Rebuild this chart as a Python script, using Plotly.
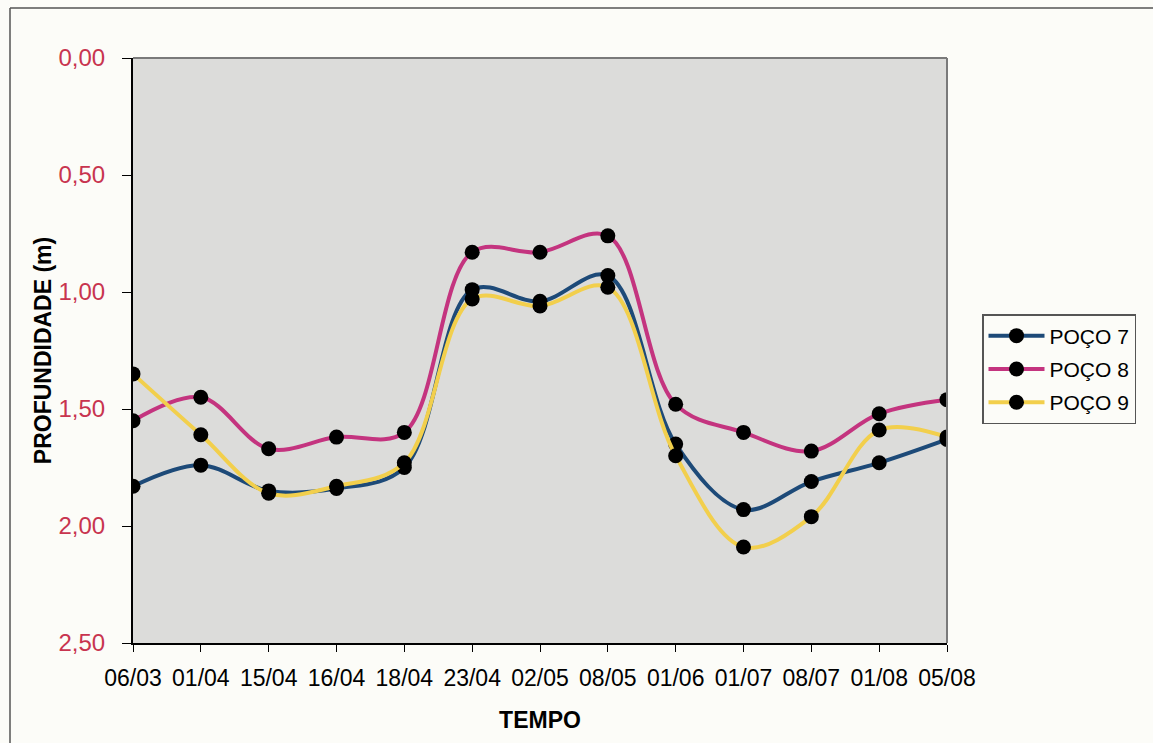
import plotly.graph_objects as go

# Sampling dates (dd/mm)
datas = ["06/03", "01/04", "15/04", "16/04", "18/04", "23/04", "02/05",
         "08/05", "01/06", "01/07", "08/07", "01/08", "05/08"]

# Water table depth (m) for each well
poco7 = [1.83, 1.74, 1.85, 1.84, 1.75, 0.99, 1.04, 0.93, 1.65, 1.93, 1.81, 1.73, 1.63]
poco8 = [1.55, 1.45, 1.67, 1.62, 1.60, 0.83, 0.83, 0.76, 1.48, 1.60, 1.68, 1.52, 1.46]
poco9 = [1.35, 1.61, 1.86, 1.83, 1.73, 1.03, 1.06, 0.98, 1.70, 2.09, 1.96, 1.59, 1.62]

y_ticks = [0.0, 0.5, 1.0, 1.5, 2.0, 2.5]
y_tick_text = ["0,00", "0,50", "1,00", "1,50", "2,00", "2,50"]

series = [
    ("POÇO 7", poco7, "#1d4a78"),
    ("POÇO 8", poco8, "#c4347f"),
    ("POÇO 9", poco9, "#f2cf4c"),
]

FONT = "Liberation Sans, Arial, sans-serif"

fig = go.Figure()
for name, vals, color in series:
    fig.add_trace(go.Scatter(
        x=list(range(len(datas))), y=vals, name=name, legendgroup=name,
        mode="lines+markers",
        line=dict(color=color, width=4, shape="spline", smoothing=1.0),
        marker=dict(color="black", size=15, line=dict(width=0)),
    ))

# Plot-area geometry in pixels (used for the frame lines and legend)
W, H = 1153, 743
L, R, T, B = 133, 947, 58, 643
pw, ph = R - L, B - T


def px_x(px):
    return (px - L) / pw


def px_y(py):
    return (B - py) / ph


shapes = [
    # grey top and right edges of the plot area
    dict(type="line", xref="paper", yref="paper", x0=0, x1=1, y0=1, y1=1,
         line=dict(color="#7a7a7a", width=2)),
    dict(type="line", xref="paper", yref="paper", x0=1, x1=1, y0=0, y1=1,
         line=dict(color="#7a7a7a", width=2)),
    # outer chart frame
    dict(type="line", xref="paper", yref="paper", x0=px_x(10), x1=px_x(W + 5),
         y0=px_y(8), y1=px_y(8), line=dict(color="#555555", width=1.5)),
    dict(type="line", xref="paper", yref="paper", x0=px_x(10), x1=px_x(10),
         y0=px_y(8), y1=px_y(H + 5), line=dict(color="#555555", width=1.5)),
]

fig.update_layout(
    width=W, height=H,
    margin=dict(l=L, r=W - R, t=T, b=H - B),
    paper_bgcolor="#fcfcf8",
    plot_bgcolor="#dcdcda",
    font=dict(family=FONT, color="black"),
    showlegend=True,
    legend=dict(
        x=px_x(982), y=px_y(314), xanchor="left", yanchor="top",
        bgcolor="#fcfcf8", bordercolor="#555555", borderwidth=1.5,
        font=dict(size=21, family=FONT, color="black"),
        tracegroupgap=3, itemsizing="trace", itemwidth=56,
    ),
    xaxis=dict(
        range=[0, len(datas) - 1],
        tickvals=list(range(len(datas))), ticktext=datas,
        tickfont=dict(size=23, family=FONT, color="black"),
        ticks="outside", ticklen=7, tickcolor="black", tickwidth=1,
        ticklabelstandoff=6,
        showline=True, linecolor="black", linewidth=2,
        showgrid=False, zeroline=False,
        title=dict(text="<b>TEMPO</b>", font=dict(size=23, family=FONT), standoff=22),
    ),
    yaxis=dict(
        range=[2.5, 0],
        tickvals=y_ticks, ticktext=y_tick_text,
        tickfont=dict(size=24, family=FONT, color="#c8344f"),
        ticks="outside", ticklen=9, tickcolor="black", tickwidth=1,
        ticklabelstandoff=12,
        showline=True, linecolor="black", linewidth=2,
        showgrid=False, zeroline=False,
        title=dict(text="<b>PROFUNDIDADE (m)</b>", font=dict(size=23, family=FONT), standoff=0),
    ),
    shapes=shapes,
)

fig.write_html("out.html")
